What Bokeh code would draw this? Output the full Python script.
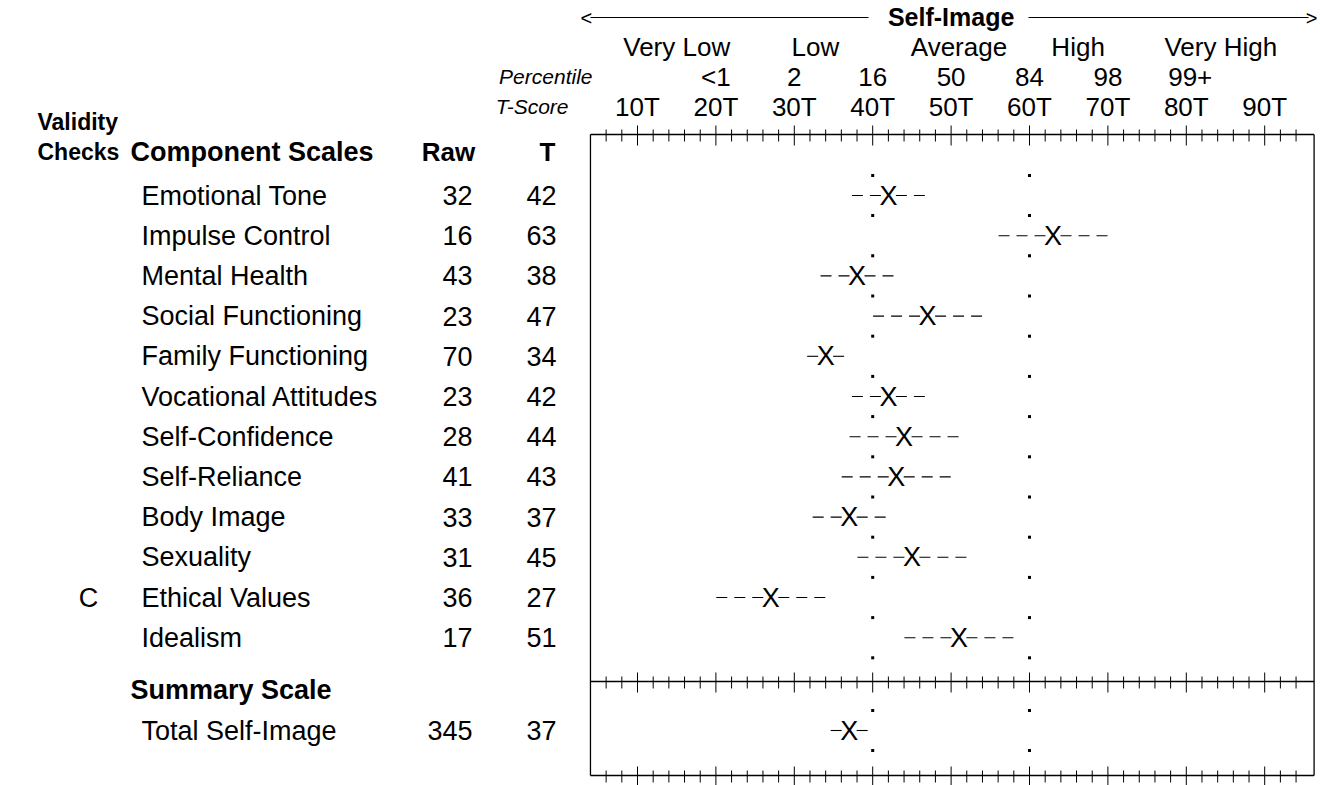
from bokeh.plotting import figure
from bokeh.models import Range1d
from bokeh.core.properties import value
from bokeh.embed import file_html
from bokeh.resources import INLINE

# ---------------- data ----------------
scales = ["Emotional Tone", "Impulse Control", "Mental Health", "Social Functioning",
          "Family Functioning", "Vocational Attitudes", "Self-Confidence", "Self-Reliance",
          "Body Image", "Sexuality", "Ethical Values", "Idealism"]
raw = [32, 16, 43, 23, 70, 23, 28, 41, 33, 31, 36, 17]
tscore = [42, 63, 38, 47, 34, 42, 44, 43, 37, 45, 27, 51]
band = [4.7, 7.0, 4.7, 7.0, 2.4, 4.7, 7.0, 7.0, 4.7, 7.0, 7.0, 7.0]
validity = ["", "", "", "", "", "", "", "", "", "", "C", ""]

summary_names = ["Total Self-Image"]
summary_raw = [345]
summary_t = [37]
summary_band = [2.4]

level_labels = ["Very Low", "Low", "Average", "High", "Very High"]
level_pos = [15, 32.7, 51, 66.2, 84.4]
pct_labels = ["<1", "2", "16", "50", "84", "98", "99+"]
pct_pos = [20, 30, 40, 50, 60, 70, 80.5]
t_labels = ["10T", "20T", "30T", "40T", "50T", "60T", "70T", "80T", "90T"]
t_pos = [10, 20, 30, 40, 50, 60, 70, 80, 90]
ref_lines = [40, 60]
t_min, t_max = 4, 96.3

# ---------------- layout helpers ----------------
PX_PER_T = 7.84
def px2t(px):
    return 10 + (px - 637) / PX_PER_T

ROW0, ROW_H = 195, 40.2
def row_y(i):
    return ROW0 + ROW_H * i

FONT = "Liberation Sans"
FS_HEAD = "26px"
FS_ROW = "27px"
FS_IT = "21px"

W, H = 1320, 785
p = figure(width=W, height=H, output_backend="svg", toolbar_location=None,
           x_range=Range1d(px2t(0), px2t(W)), y_range=Range1d(H, 0),
           min_border=0, min_border_left=0, min_border_right=0,
           min_border_top=0, min_border_bottom=0)
p.axis.visible = False
p.grid.visible = False
p.outline_line_color = None
p.background_fill_color = "white"

def txt(x, y, t, align="left", size=FS_ROW, style="normal", color="black"):
    p.text(x=x, y=y, text=t, text_font=value(FONT), text_font_size=size,
           text_font_style=style, text_align=align, text_baseline="middle",
           text_color=color)

# ---------------- header ----------------
y_title, y_lvl, y_pct, y_t = 16, 46, 76, 106
txt([50], [y_title], ["Self-Image"], align="center", style="bold", size="25px")
p.segment(x0=[px2t(590), px2t(1028)], y0=[y_title + 1, y_title + 1],
          x1=[px2t(868), px2t(1308)], y1=[y_title + 1, y_title + 1],
          line_color="black", line_width=1)
txt([px2t(580)], [y_title + 1], ["<"], align="left", size="20px")
txt([px2t(1317)], [y_title + 1], [">"], align="right", size="20px")

txt(level_pos, [y_lvl] * len(level_pos), level_labels, align="center", size=FS_HEAD)
txt([px2t(592)], [y_pct], ["Percentile"], align="right", size=FS_IT, style="italic")
txt(pct_pos, [y_pct] * len(pct_pos), pct_labels, align="center", size=FS_HEAD)
txt([px2t(568)], [y_t], ["T-Score"], align="right", size=FS_IT, style="italic")
txt(t_pos, [y_t] * len(t_pos), t_labels, align="center", size=FS_HEAD)

# column headers
y_head = 151
txt([px2t(37)], [121], ["Validity"], style="bold", size="23px")
txt([px2t(37)], [y_head], ["Checks"], style="bold", size="23px")
txt([px2t(130)], [y_head], ["Component Scales"], style="bold")
txt([px2t(448)], [y_head], ["Raw"], align="center", style="bold", size=FS_HEAD)
txt([px2t(547)], [y_head], ["T"], align="center", style="bold", size=FS_HEAD)

# ---------------- rows ----------------
n = len(scales)
ys = [row_y(i) for i in range(n)]
txt([px2t(141)] * n, ys, scales)
txt([px2t(472)] * n, ys, [str(v) for v in raw], align="right")
txt([px2t(556)] * n, ys, [str(v) for v in tscore], align="right")
txt([px2t(88)] * n, ys, validity, align="center")

y_sum_head = 689
y_total = 730
txt([px2t(130)], [y_sum_head], ["Summary Scale"], style="bold")
txt([px2t(141)], [y_total], summary_names)
txt([px2t(472)], [y_total], [str(v) for v in summary_raw], align="right")
txt([px2t(556)], [y_total], [str(v) for v in summary_t], align="right")

# ---------------- profile box and ticks ----------------
y_top, y_div, y_bot = 134, 681, 775
p.segment(x0=[t_min] * 3, x1=[t_max] * 3, y0=[y_top, y_div, y_bot], y1=[y_top, y_div, y_bot],
          line_color="black", line_width=1.3)
p.segment(x0=[t_min, t_max], x1=[t_min, t_max], y0=[y_top, y_top], y1=[y_bot, y_bot],
          line_color="black", line_width=1.3)

ticks = list(range(6, 95, 2))
mx0, my0, my1 = [], [], []
for yl in (y_top, y_div, y_bot):
    for t in ticks:
        mx0.append(t)
        if t % 10 == 0:
            my0.append(yl - 9); my1.append(yl + 11)
        else:
            my0.append(yl - 5); my1.append(yl + 7)
p.segment(x0=mx0, x1=mx0, y0=my0, y1=my1, line_color="black", line_width=1)

# dotted reference lines at 40T and 60T
dot_y = [row_y(i) - ROW_H / 2 for i in range(n + 1)] + [y_total - 20, y_total + 20]
dx, dy = [], []
for r in ref_lines:
    dx += [r] * len(dot_y)
    dy += dot_y
p.scatter(x=dx, y=dy, marker="square", size=3, fill_color="black", line_color=None)

# ---------------- marks ----------------
XH = 7.5 / PX_PER_T
all_t = tscore + summary_t
all_b = band + summary_band
all_y = ys + [y_total]
p.segment(x0=[t - XH for t in all_t], x1=[t - b for t, b in zip(all_t, all_b)],
          y0=all_y, y1=all_y, line_color="black", line_width=1.1, line_dash="11 7")
p.segment(x0=[t + XH for t in all_t], x1=[t + b for t, b in zip(all_t, all_b)],
          y0=all_y, y1=all_y, line_color="black", line_width=1.1, line_dash="11 7")
txt(all_t, all_y, ["X"] * len(all_t), align="center", size="27px")

open("out.html", "w").write(file_html(p, INLINE))
